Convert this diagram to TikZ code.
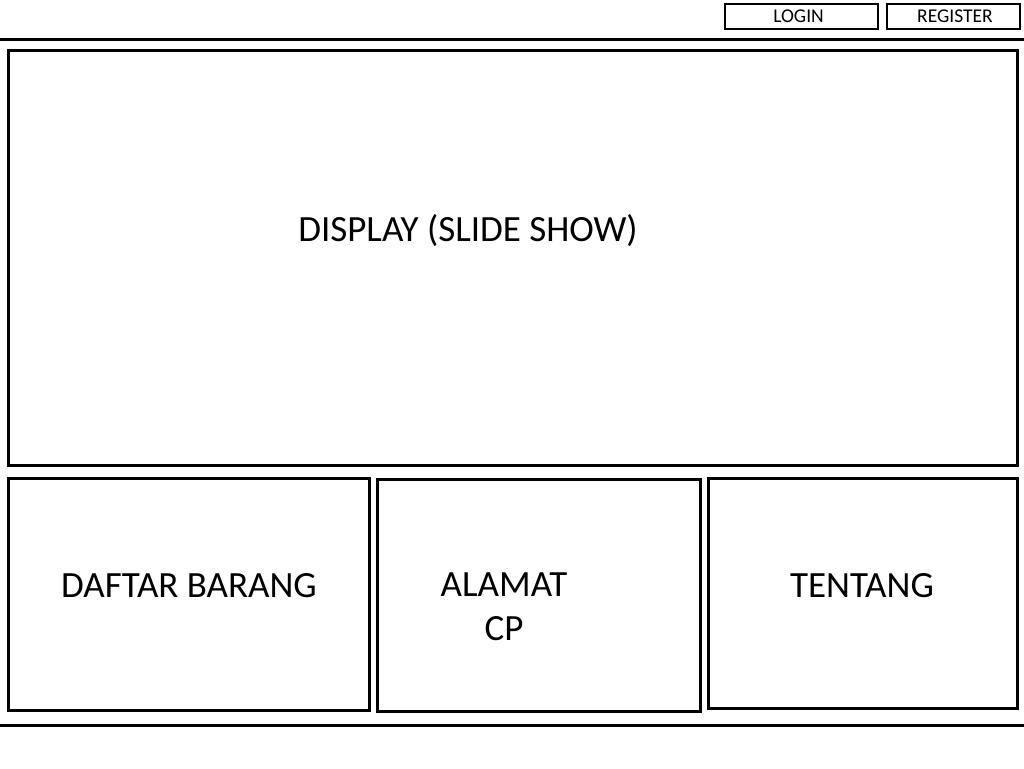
\documentclass[tikz,border=0pt]{standalone}
\usepackage{fontspec}
\setmainfont{Carlito}
\usetikzlibrary{positioning}

\tikzset{
  panel/.style={draw, line width=3pt, inner sep=0pt},
  btn/.style={draw, line width=2.5pt, inner sep=0pt},
  bigtext/.style={font=\fontsize{37}{44}\selectfont, align=center},
  smalltext/.style={font=\fontsize{19.5}{22}\selectfont}
}

\begin{document}
\begin{tikzpicture}[x=1pt,y=-1pt]
		\useasboundingbox (0,0) rectangle (1024,768);
		% header buttons
		\node[btn, minimum width=153pt, minimum height=25pt] (login) at (801.5,16.5) {};
		\node[btn, minimum width=133pt, minimum height=25pt] (register) at (953.5,16.5) {};
		\node[smalltext] (logintxt) at (798.5,16.5) {LOGIN};
		\node[smalltext] (registertxt) at (955,16.5) {REGISTER};
		% separator lines
		\draw[line width=3pt] (0,40) -- (1024,40);
		\draw[line width=3pt] (0,725) -- (1024,725);
		% slide show
		\node[panel, minimum width=1009pt, minimum height=414pt] (display) at (512.5,258) {};
		\node[bigtext] (displaytxt) at (468,231) {DISPLAY (SLIDE SHOW)};
		% bottom panels
		\node[panel, minimum width=361pt, minimum height=232pt] (daftar) at (188.5,594) {};
		\node[panel, minimum width=323pt, minimum height=232pt] (alamat) at (538.5,595) {};
		\node[panel, minimum width=309pt, minimum height=230pt] (tentang) at (862.5,593) {};
		\node[bigtext] (daftartxt) at (189,586) {DAFTAR BARANG};
		\node[bigtext] (alamattxt) at (504,607) {ALAMAT\\CP};
		\node[bigtext] (tentangtxt) at (862,586) {TENTANG};
	\end{tikzpicture}
\end{document}
